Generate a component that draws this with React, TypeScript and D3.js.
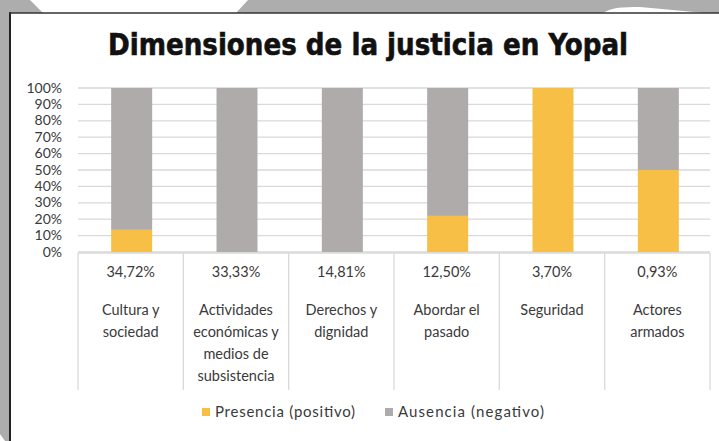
import React from 'react';
import * as d3 from 'd3';

const categories = [
  ['Cultura y', 'sociedad'],
  ['Actividades', 'económicas y', 'medios de', 'subsistencia'],
  ['Derechos y', 'dignidad'],
  ['Abordar el', 'pasado'],
  ['Seguridad'],
  ['Actores', 'armados'],
];
const shares = ['34,72%', '33,33%', '14,81%', '12,50%', '3,70%', '0,93%'];
const presencia = [13.5, 0, 0, 22, 100, 50];
const ausencia = [86.5, 100, 100, 78, 0, 50];
const yTicks = [0, 10, 20, 30, 40, 50, 60, 70, 80, 90, 100];
const seriesNames = ['Presencia (positivo)', 'Ausencia (negativo)'];
const colors = ['#F7BF45', '#AFABAB'];

const W = 719;
const H = 441;
const font = 'Lato, "Open Sans", sans-serif';

const App = () => {
  const x = d3.scaleBand<number>()
    .domain(d3.range(categories.length))
    .range([78, 710])
    .paddingInner(0)
    .paddingOuter(0);
  const y = d3.scaleLinear().domain([0, 100]).range([252, 88]);
  const barW = 41;

  const stacked = d3.stack<number>()
    .keys(['p', 'a'])
    .value((i, key) => (key === 'p' ? presencia[i] : ausencia[i]))(d3.range(categories.length));

  return (
    <svg width={W} height={H} style={{ position: 'absolute', left: 0, top: 0 }}>
      <rect width={W} height={H} fill="#adadad" />
      <polygon points="30,0 248,0 236,13 43,13" fill="#ffffff" />
      <path d="M603,13 Q612,6 640,7 L705,13 Z" fill="#ffffff" />
      <polygon points="0,434 0,441 5,441" fill="#ffffff" />
      <rect x={10} y={13} width={W - 10} height={H - 13} fill="#ffffff" />
      <line x1={10} x2={10} y1={12} y2={H} stroke="#222" strokeWidth={2} />
      <line x1={9} x2={W} y1={13} y2={13} stroke="#333" strokeWidth={1.5} />

      <text
        x={368}
        y={55}
        textAnchor="middle"
        fontFamily='"Liberation Sans Narrow", "DejaVu Sans Condensed", sans-serif'
        fontWeight="bold"
        fontSize={31}
        textLength={520}
        lengthAdjust="spacingAndGlyphs"
        fill="#111"
        stroke="#111"
        strokeWidth={0.6}
      >
        Dimensiones de la justicia en Yopal
      </text>

      {yTicks.map((t) => (
        <g key={t}>
          <line x1={78} x2={710} y1={y(t)} y2={y(t)} stroke="#d9d9d9" strokeWidth={1.3} />
          <text x={62} y={y(t) + 4.5} textAnchor="end" fontFamily={font} fontSize={14} fill="#3a3a3a">
            {t}%
          </text>
        </g>
      ))}

      {stacked.map((layer, li) => (
        <g key={li} fill={colors[li]}>
          {layer.map((d, i) => {
            const h = y(d[0]) - y(d[1]);
            if (h <= 0) return null;
            return (
              <rect
                key={i}
                x={(x(i) as number) + x.bandwidth() / 2 - barW / 2 + 1}
                y={y(d[1])}
                width={barW}
                height={h}
              />
            );
          })}
        </g>
      ))}

      <line x1={78} x2={710} y1={253} y2={253} stroke="#d9d9d9" strokeWidth={1.3} />
      {d3.range(categories.length + 1).map((i) => {
        const xx = i < categories.length ? (x(i) as number) : 710;
        return <line key={i} x1={xx} x2={xx} y1={253} y2={390} stroke="#d9d9d9" strokeWidth={1.3} />;
      })}

      {categories.map((lines, i) => {
        const cx = (x(i) as number) + x.bandwidth() / 2;
        return (
          <g key={i} fontFamily={font} fontSize={14.5} fill="#3a3a3a" textAnchor="middle">
            <text x={cx} y={277}>{shares[i]}</text>
            {lines.map((l, j) => (
              <text key={j} x={cx} y={315 + j * 22}>{l}</text>
            ))}
          </g>
        );
      })}

      <g fontFamily={font} fontSize={15} fill="#3a3a3a">
        <rect x={202} y={408} width={8} height={8} fill={colors[0]} />
        <text x={215} y={417} textLength={140} lengthAdjust="spacing">{seriesNames[0]}</text>
        <rect x={385} y={408} width={8} height={8} fill={colors[1]} />
        <text x={398} y={417} textLength={146} lengthAdjust="spacing">{seriesNames[1]}</text>
      </g>
    </svg>
  );
};

export default App;
